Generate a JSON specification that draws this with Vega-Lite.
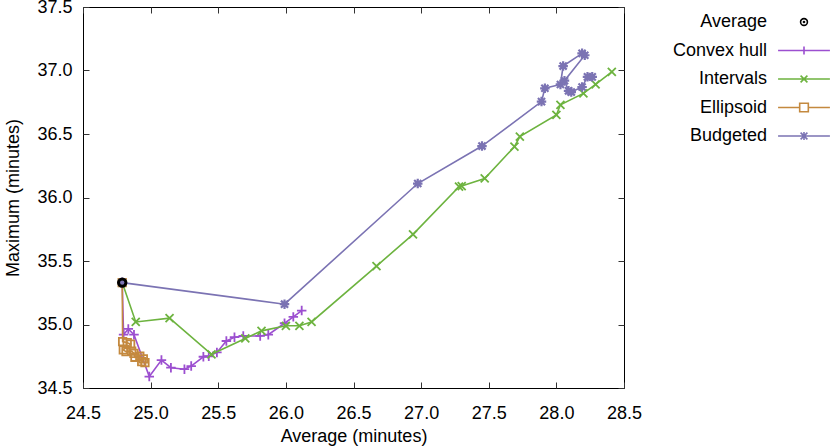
{
  "$schema": "https://vega.github.io/schema/vega-lite/v6.json",
  "width": 541,
  "height": 381,
  "autosize": {"type": "none"},
  "padding": {"left": 83, "top": 7, "right": 206, "bottom": 58},
  "config": {
    "font": "Liberation Sans",
    "view": {"stroke": "#000000", "strokeWidth": 1},
    "axis": {
      "grid": false,
      "domain": false,
      "labelFontSize": 18,
      "labelColor": "#000000",
      "titleFontSize": 18,
      "titleFontWeight": "normal",
      "titleColor": "#000000",
      "tickColor": "#333333",
      "tickSize": -6,
      "tickWidth": 1
    }
  },
  "datasets": {
    "pts": [
      {"series": "Average", "x": 24.79, "y": 35.33, "o": 0},

      {"series": "Convex hull", "x": 24.79, "y": 35.33, "o": 0},
      {"series": "Convex hull", "x": 24.80, "y": 34.92, "o": 1},
      {"series": "Convex hull", "x": 24.835, "y": 34.965, "o": 2},
      {"series": "Convex hull", "x": 24.877, "y": 34.92, "o": 3},
      {"series": "Convex hull", "x": 24.99, "y": 34.59, "o": 4},
      {"series": "Convex hull", "x": 25.08, "y": 34.72, "o": 5},
      {"series": "Convex hull", "x": 25.15, "y": 34.66, "o": 6},
      {"series": "Convex hull", "x": 25.25, "y": 34.648, "o": 7},
      {"series": "Convex hull", "x": 25.30, "y": 34.673, "o": 8},
      {"series": "Convex hull", "x": 25.39, "y": 34.746, "o": 9},
      {"series": "Convex hull", "x": 25.43, "y": 34.75, "o": 10},
      {"series": "Convex hull", "x": 25.49, "y": 34.78, "o": 11},
      {"series": "Convex hull", "x": 25.56, "y": 34.87, "o": 12},
      {"series": "Convex hull", "x": 25.62, "y": 34.90, "o": 13},
      {"series": "Convex hull", "x": 25.685, "y": 34.91, "o": 14},
      {"series": "Convex hull", "x": 25.81, "y": 34.91, "o": 15},
      {"series": "Convex hull", "x": 25.87, "y": 34.92, "o": 16},
      {"series": "Convex hull", "x": 25.99, "y": 35.01, "o": 17},
      {"series": "Convex hull", "x": 26.055, "y": 35.06, "o": 18},
      {"series": "Convex hull", "x": 26.117, "y": 35.11, "o": 19},

      {"series": "Intervals", "x": 24.79, "y": 35.33, "o": 0},
      {"series": "Intervals", "x": 24.89, "y": 35.02, "o": 1},
      {"series": "Intervals", "x": 25.14, "y": 35.05, "o": 2},
      {"series": "Intervals", "x": 25.45, "y": 34.765, "o": 3},
      {"series": "Intervals", "x": 25.70, "y": 34.89, "o": 4},
      {"series": "Intervals", "x": 25.82, "y": 34.95, "o": 5},
      {"series": "Intervals", "x": 26.00, "y": 34.99, "o": 6},
      {"series": "Intervals", "x": 26.10, "y": 34.99, "o": 7},
      {"series": "Intervals", "x": 26.19, "y": 35.02, "o": 8},
      {"series": "Intervals", "x": 26.67, "y": 35.46, "o": 9},
      {"series": "Intervals", "x": 26.94, "y": 35.71, "o": 10},
      {"series": "Intervals", "x": 27.28, "y": 36.085, "o": 11},
      {"series": "Intervals", "x": 27.30, "y": 36.09, "o": 12},
      {"series": "Intervals", "x": 27.47, "y": 36.15, "o": 13},
      {"series": "Intervals", "x": 27.69, "y": 36.40, "o": 14},
      {"series": "Intervals", "x": 27.73, "y": 36.48, "o": 15},
      {"series": "Intervals", "x": 28.00, "y": 36.65, "o": 16},
      {"series": "Intervals", "x": 28.03, "y": 36.73, "o": 17},
      {"series": "Intervals", "x": 28.20, "y": 36.82, "o": 18},
      {"series": "Intervals", "x": 28.29, "y": 36.89, "o": 19},
      {"series": "Intervals", "x": 28.41, "y": 36.99, "o": 20},

      {"series": "Ellipsoid", "x": 24.79, "y": 35.33, "o": 0},
      {"series": "Ellipsoid", "x": 24.793, "y": 34.865, "o": 1},
      {"series": "Ellipsoid", "x": 24.827, "y": 34.857, "o": 2},
      {"series": "Ellipsoid", "x": 24.852, "y": 34.846, "o": 3},
      {"series": "Ellipsoid", "x": 24.798, "y": 34.80, "o": 4},
      {"series": "Ellipsoid", "x": 24.818, "y": 34.786, "o": 5},
      {"series": "Ellipsoid", "x": 24.86, "y": 34.79, "o": 6},
      {"series": "Ellipsoid", "x": 24.877, "y": 34.773, "o": 7},
      {"series": "Ellipsoid", "x": 24.884, "y": 34.742, "o": 8},
      {"series": "Ellipsoid", "x": 24.92, "y": 34.75, "o": 9},
      {"series": "Ellipsoid", "x": 24.946, "y": 34.73, "o": 10},
      {"series": "Ellipsoid", "x": 24.934, "y": 34.707, "o": 11},
      {"series": "Ellipsoid", "x": 24.958, "y": 34.70, "o": 12},

      {"series": "Budgeted", "x": 24.79, "y": 35.33, "o": 0},
      {"series": "Budgeted", "x": 25.99, "y": 35.16, "o": 1},
      {"series": "Budgeted", "x": 26.975, "y": 36.11, "o": 2},
      {"series": "Budgeted", "x": 27.45, "y": 36.405, "o": 3},
      {"series": "Budgeted", "x": 27.89, "y": 36.755, "o": 4},
      {"series": "Budgeted", "x": 27.915, "y": 36.86, "o": 5},
      {"series": "Budgeted", "x": 28.03, "y": 36.89, "o": 6},
      {"series": "Budgeted", "x": 28.05, "y": 37.035, "o": 7},
      {"series": "Budgeted", "x": 28.19, "y": 37.135, "o": 8},
      {"series": "Budgeted", "x": 28.21, "y": 37.12, "o": 9},
      {"series": "Budgeted", "x": 28.06, "y": 36.92, "o": 10},
      {"series": "Budgeted", "x": 28.09, "y": 36.84, "o": 11},
      {"series": "Budgeted", "x": 28.11, "y": 36.83, "o": 12},
      {"series": "Budgeted", "x": 28.19, "y": 36.87, "o": 13},
      {"series": "Budgeted", "x": 28.23, "y": 36.95, "o": 14},
      {"series": "Budgeted", "x": 28.265, "y": 36.95, "o": 15}
    ]
  },
  "data": {"name": "pts"},
  "resolve": {"axis": {"x": "independent", "y": "independent"}},
  "layer": [
    {
      "transform": [{"filter": "false"}],
      "mark": {"type": "point", "filled": false, "opacity": 1, "size": 1296, "strokeWidth": 1.6},
      "encoding": {
        "x": {"field": "x", "type": "quantitative", "axis": null,
              "scale": {"domain": [24.5, 28.5], "nice": false, "zero": false}},
        "y": {"field": "y", "type": "quantitative", "axis": null,
              "scale": {"domain": [34.5, 37.5], "nice": false, "zero": false}},
        "color": {"field": "series", "type": "nominal",
                  "scale": {"domain": ["Average", "Convex hull", "Intervals", "Ellipsoid", "Budgeted"],
                            "range": ["#000000", "#9c4fd0", "#6db33f", "#c4893f", "#7b73b3"]},
                  "legend": {"orient": "none", "legendX": 702, "legendY": -4, "title": null, "labelAlign": "right", "labelOffset": -56,
                             "labelFontSize": 18, "labelColor": "#000000", "symbolSize": 1296, "symbolStrokeWidth": 1.6, "symbolOpacity": 1, "symbolFillColor": "transparent", "rowPadding": 0.5, "padding": 0, "labelLimit": 0,
                             "encode": {"symbols": {"update": {"fill": {"value": "transparent"}, "opacity": {"value": 1}}}}}},
        "shape": {"field": "series", "type": "nominal",
                  "scale": {"domain": ["Average", "Convex hull", "Intervals", "Ellipsoid", "Budgeted"],
                            "range": ["M-0.19,0A0.19,0.19 0 1,0 0.19,0A0.19,0.19 0 1,0 -0.19,0M-0.03,0A0.03,0.03 0 1,0 0.03,0A0.03,0.03 0 1,0 -0.03,0",
                                      "M-1.44,0H1.44M0,-0.22V0.22",
                                      "M-1.44,0H1.44M-0.19,-0.19L0.19,0.19M-0.19,0.19L0.19,-0.19",
                                      "M-1.44,0H-0.24M0.24,0H1.44M-0.24,-0.24H0.24V0.24H-0.24Z",
                                      "M-1.44,0H1.44M0,-0.22V0.22M-0.19,-0.19L0.19,0.19M-0.19,0.19L0.19,-0.19"]},
                  "legend": {"orient": "none", "legendX": 702, "legendY": -4, "title": null, "labelAlign": "right", "labelOffset": -56,
                             "labelFontSize": 18, "labelColor": "#000000", "symbolSize": 1296, "symbolStrokeWidth": 1.6, "symbolOpacity": 1, "symbolFillColor": "transparent", "rowPadding": 0.5, "padding": 0, "labelLimit": 0,
                             "encode": {"symbols": {"update": {"fill": {"value": "transparent"}, "opacity": {"value": 1}}}}}}
      }
    },
    {
      "transform": [{"filter": "datum.series == 'Convex hull'"}],
      "mark": {"type": "line", "strokeWidth": 1.6, "point": {"shape": "M-1,0H1M0,-1V1", "filled": false, "opacity": 1, "size": 90, "strokeWidth": 1.8}},
      "encoding": {
        "x": {"field": "x", "type": "quantitative", "title": "Average (minutes)",
              "axis": {"orient": "bottom", "values": [24.5, 25, 25.5, 26, 26.5, 27, 27.5, 28, 28.5], "format": ".1f", "labelPadding": 22, "titlePadding": 5, "labelFlush": false}},
        "y": {"field": "y", "type": "quantitative", "title": "Maximum (minutes)",
              "axis": {"orient": "left", "values": [34.5, 35, 35.5, 36, 36.5, 37, 37.5], "format": ".1f", "labelPadding": 17, "titlePadding": 14, "labelFlush": false}},
        "order": {"field": "o", "type": "quantitative"},
        "color": {"field": "series", "type": "nominal"}
      }
    },
    {
      "transform": [{"filter": "datum.series == 'Intervals'"}],
      "mark": {"type": "line", "strokeWidth": 1.6, "point": {"shape": "M-1,-1L1,1M-1,1L1,-1", "filled": false, "opacity": 1, "size": 64, "strokeWidth": 1.8}},
      "encoding": {
        "x": {"field": "x", "type": "quantitative",
              "axis": {"orient": "top", "values": [24.5, 25, 25.5, 26, 26.5, 27, 27.5, 28, 28.5], "labels": false, "title": null}},
        "y": {"field": "y", "type": "quantitative",
              "axis": {"orient": "right", "values": [34.5, 35, 35.5, 36, 36.5, 37, 37.5], "labels": false, "title": null}},
        "order": {"field": "o", "type": "quantitative"},
        "color": {"field": "series", "type": "nominal"}
      }
    },
    {
      "transform": [{"filter": "datum.series == 'Ellipsoid'"}],
      "mark": {"type": "line", "strokeWidth": 1.6, "point": {"shape": "M-1,-1H1V1H-1Z", "filled": false, "opacity": 1, "size": 56, "strokeWidth": 1.8}},
      "encoding": {
        "x": {"field": "x", "type": "quantitative", "axis": null},
        "y": {"field": "y", "type": "quantitative", "axis": null},
        "order": {"field": "o", "type": "quantitative"},
        "color": {"field": "series", "type": "nominal"}
      }
    },
    {
      "transform": [{"filter": "datum.series == 'Budgeted'"}],
      "mark": {"type": "line", "strokeWidth": 1.6, "point": {"shape": "M-1,0H1M0,-1V1M-0.75,-0.75L0.75,0.75M-0.75,0.75L0.75,-0.75", "filled": false, "opacity": 1, "size": 90, "strokeWidth": 2.2}},
      "encoding": {
        "x": {"field": "x", "type": "quantitative", "axis": null},
        "y": {"field": "y", "type": "quantitative", "axis": null},
        "order": {"field": "o", "type": "quantitative"},
        "color": {"field": "series", "type": "nominal"}
      }
    },
    {
      "transform": [{"filter": "datum.series == 'Average'"}],
      "mark": {"type": "point", "shape": "circle", "filled": false, "opacity": 1, "size": 55, "strokeWidth": 3},
      "encoding": {
        "x": {"field": "x", "type": "quantitative", "axis": null},
        "y": {"field": "y", "type": "quantitative", "axis": null},
        "color": {"field": "series", "type": "nominal"}
      }
    }
  ]
}
